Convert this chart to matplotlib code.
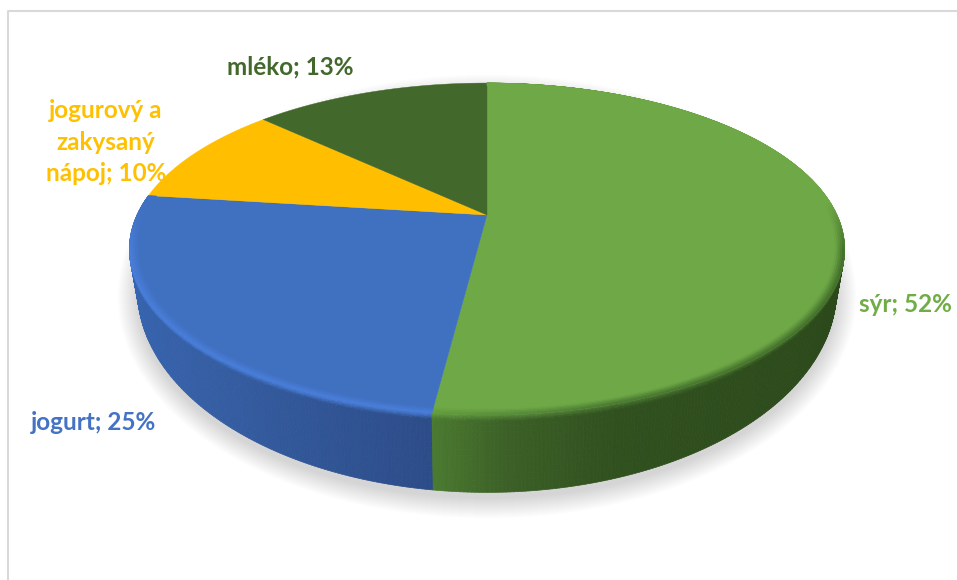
import numpy as np
import matplotlib
matplotlib.use("Agg")
import matplotlib.pyplot as plt
from matplotlib.collections import PolyCollection
from matplotlib.colors import to_rgb

names = ["sýr", "jogurt", "jogurový a\nzakysaný\nnápoj", "mléko"]
values = [52, 25, 10, 13]
face_colors = ["#6fa947", "#4070c0", "#ffbf00", "#43682b"]
label_colors = ["#70ad47", "#4472c4", "#ffc000", "#43682b"]
label_pos = [(905, 305), (93, 423), (106, 142), (290, 67)]

# side shading for each slice: colour against horizontal position on the disc
side_u = [-1.0, -0.6, -0.125, 0.05, 0.3, 1.0]
side_colors = {
    0: ["#4a7a30", "#4a7a30", "#4a7a30", "#3b5f26", "#30501e", "#2b481a"],
    1: ["#3866b2", "#345ca0", "#2c4c88", "#2c4c88", "#2c4c88", "#2c4c88"],
}
rim_colors = {0: ["#629c3d", "#629c3d", "#629c3d", "#56893a", "#477530", "#3f6a28"],
              1: ["#4a80dc", "#4a80dc", "#4a80dc", "#4a80dc", "#4a80dc", "#4a80dc"]}

# perspective of the top and bottom discs, in figure pixels
cx = 487
top = dict(cy=215, a=350, b=159)
bottom = dict(cy=249, a=342, b=193.5)
persp = 0.205


def project(theta, r, disc):
    u = r * np.sin(theta)
    v = r * np.cos(theta)
    w = 1 + persp * v
    return cx + disc["a"] * u / w, disc["cy"] - disc["b"] * v / w


def shade(anchors, u):
    rgb = np.array([to_rgb(c) for c in anchors])
    return np.array([np.interp(u, side_u, rgb[:, i]) for i in range(3)]).T


def mix(c1, c2, f):
    f = np.asarray(f)[..., None]
    return c1 * (1 - f) + c2 * f


def rim_strength(theta):
    return np.clip((0.08 - np.cos(theta)) / 0.3, 0, 1)


fig = plt.figure(figsize=(9.57, 5.8), dpi=100)
ax = fig.add_axes([0, 0, 1, 1])
ax.set_xlim(0, 957)
ax.set_ylim(580, 0)
ax.axis("off")

# chart frame
ax.plot([8, 8, 957], [580, 11, 11], color="#d9d9d9", lw=1.5, zorder=1)

# soft shadow under the disc
circle = np.linspace(0, 2 * np.pi, 361)
sx, sy = project(circle, 1, bottom)
mid_y = 0.5 * (sy.max() + sy.min())
for grow in np.linspace(20, 0, 21):
    gx = cx + (sx - cx) * (1 + grow / 349)
    gy = mid_y + 6 + (sy - mid_y) * (1 + grow / 202)
    ax.fill(gx, gy, color="black", alpha=0.008, lw=0, zorder=2)

shares = np.array(values) / sum(values)
edges = np.concatenate([[0], np.cumsum(shares)]) * 2 * np.pi

# outer wall of the two front slices, drawn back to front
polys, colors, depth = [], [], []
t_levels = np.concatenate([np.linspace(0, 0.08, 7), np.linspace(0.14, 1, 12)])
for i in side_colors:
    n = int(shares[i] * 700)
    th = np.linspace(edges[i], edges[i + 1], n + 1)
    mid = 0.5 * (th[:-1] + th[1:])
    side = shade(side_colors[i], np.sin(mid))
    rim = mix(np.array(to_rgb(face_colors[i])), shade(rim_colors[i], np.sin(mid)), rim_strength(mid))
    for t0, t1 in zip(t_levels[:-1], t_levels[1:]):
        f = min(0.5 * (t0 + t1) / 0.08, 1)
        seg = rim * (1 - f) + side * f
        for k in range(n):
            x00, y00 = project(th[k], 1, top)
            x10, y10 = project(th[k + 1], 1, top)
            x01, y01 = project(th[k], 1, bottom)
            x11, y11 = project(th[k + 1], 1, bottom)
            polys.append([(x00 + t0 * (x01 - x00), y00 + t0 * (y01 - y00)),
                          (x10 + t0 * (x11 - x10), y10 + t0 * (y11 - y10)),
                          (x10 + t1 * (x11 - x10), y10 + t1 * (y11 - y10)),
                          (x00 + t1 * (x01 - x00), y00 + t1 * (y01 - y00))])
            colors.append(seg[k])
            depth.append(np.cos(mid[k]))
order = np.argsort(depth)[::-1]
ax.add_collection(PolyCollection([polys[j] for j in order],
                                 facecolors=[colors[j] for j in order],
                                 edgecolors=[colors[j] for j in order],
                                 linewidths=0.5, zorder=3))

# flat top of each slice
for i in range(len(values)):
    th = np.linspace(edges[i], edges[i + 1], max(int(shares[i] * 700), 20))
    x, y = project(th, 1, top)
    ax.fill(np.r_[cx, x], np.r_[top["cy"], y], color=face_colors[i], lw=0.3, zorder=4)

# rounded edge where the top turns into the wall
polys, colors = [], []
r_levels = np.linspace(0.975, 1, 6)
for i in side_colors:
    n = int(shares[i] * 700)
    th = np.linspace(edges[i], edges[i + 1], n + 1)
    mid = 0.5 * (th[:-1] + th[1:])
    face = np.array(to_rgb(face_colors[i]))
    rim = mix(face, shade(rim_colors[i], np.sin(mid)), rim_strength(mid))
    for r0, r1 in zip(r_levels[:-1], r_levels[1:]):
        f = (0.5 * (r0 + r1) - r_levels[0]) / (1 - r_levels[0])
        seg = face * (1 - f) + rim * f
        x0a, y0a = project(th[:-1], r0, top)
        x0b, y0b = project(th[1:], r0, top)
        x1a, y1a = project(th[:-1], r1, top)
        x1b, y1b = project(th[1:], r1, top)
        for k in range(n):
            polys.append([(x0a[k], y0a[k]), (x0b[k], y0b[k]), (x1b[k], y1b[k]), (x1a[k], y1a[k])])
            colors.append(seg[k])
ax.add_collection(PolyCollection(polys, facecolors=colors, edgecolors=colors, linewidths=0.4, zorder=5))

# data labels
for name, value, color, (lx, ly) in zip(names, values, label_colors, label_pos):
    ax.text(lx, ly, f"{name}; {value}%", color=color, family="Lato", weight="bold",
            fontsize=17.5, ha="center", va="center", linespacing=1.43, zorder=6)

fig.savefig("out.png", dpi=100, facecolor="white")
